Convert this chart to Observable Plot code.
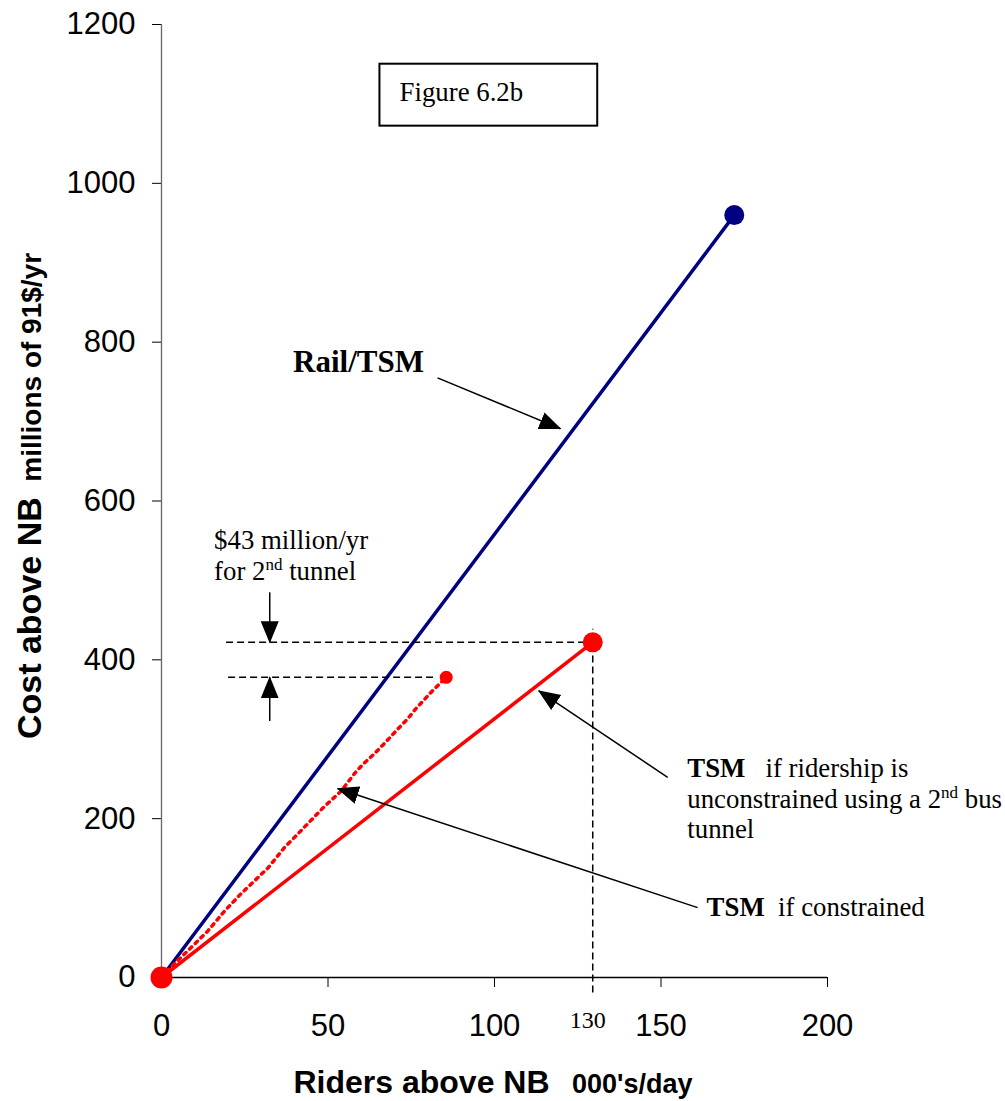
<!DOCTYPE html>
<html><head><meta charset="utf-8">
<script src="https://cdn.jsdelivr.net/npm/d3@7"></script>
<script src="https://cdn.jsdelivr.net/npm/@observablehq/plot@0.6"></script>
<style>body{margin:0;background:#fff}</style>
</head><body>
<script>
// ---- data ----
const xTicks = [0, 50, 100, 150, 200];
const yTicks = [0, 200, 400, 600, 800, 1000, 1200];
const railTSM = [{x: 0, y: 0}, {x: 172, y: 960}];
const tsmUnconstrained = [{x: 0, y: 0}, {x: 129.5, y: 422}];
const tsmConstrainedX = [0, 4, 8, 14, 19, 24, 28, 32, 37, 41, 48.6, 54, 58, 60.6, 64, 67, 71, 74, 76.5, 81.6, 85.5];
const tsmConstrainedY = [0, 18, 34, 59, 84, 106, 122, 138, 164, 181, 214, 235, 257, 269, 282, 295, 313, 326, 339, 362, 378];
const tsmConstrained = tsmConstrainedX.map((x, i) => ({x, y: tsmConstrainedY[i]}));

// annotation geometry (data units)
const arrows = [
  {x1: 82.9, y1: 755, x2: 119.8, y2: 691},
  {x1: 152, y1: 252, x2: 113.3, y2: 361},
  {x1: 161, y1: 88, x2: 52.9, y2: 238},
  {x1: 32.5, y1: 485, x2: 32.5, y2: 422},
  {x1: 32.5, y1: 323, x2: 32.5, y2: 378}
];
const dashed = [
  {x1: 19.4, y1: 422, x2: 129.5, y2: 422},
  {x1: 20, y1: 378, x2: 82, y2: 378},
  {x1: 129.5, y1: -19, x2: 129.5, y2: 439}
];
const figureBox = [{x1: 65.6, x2: 131, y1: 1072, y2: 1150}];
const boldLabels = [{x: 39.5, y: 763, text: "Rail/TSM"}];
const serifLabels = [
  {x: 71.5, y: 1104, text: "Figure 6.2b"},
  {x: 15.8, y: 539, text: "$43 million/yr"},
  {x: 15.8, y: 500, text: "for 2nd tunnel"},
  {x: 157.9, y: 252, text: "TSM   if ridership is"},
  {x: 157.9, y: 214, text: "unconstrained using a 2nd bus"},
  {x: 157.9, y: 176, text: "tunnel"},
  {x: 163.7, y: 78, text: "TSM  if constrained"}
];
const tickNote = [{x: 128, y: -63, text: "130"}];
const xTitle = ["Riders above NB", "   000's/day"];
const yTitle = ["Cost above NB", "  millions of 91$/yr"];

const rich = {
  "for 2nd tunnel": [["for 2"], ["nd", "sup"], [" tunnel"]],
  "unconstrained using a 2nd bus": [["unconstrained using a 2"], ["nd", "sup"], [" bus"]],
  "TSM   if ridership is": [["TSM", "b"], ["   if ridership is"]],
  "TSM  if constrained": [["TSM", "b"], ["  if constrained"]]
};

const SANS = "Liberation Sans, Arial, sans-serif";
const SERIF = "Liberation Serif, Times New Roman, serif";

const svg = Plot.plot({
  width: 1005,
  height: 1101,
  marginLeft: 161,
  marginRight: 178,
  marginTop: 24,
  marginBottom: 124,
  style: {fontFamily: SANS, fontSize: "31px", color: "#000", background: "#fff", overflow: "visible"},
  x: {domain: [0, 200], ticks: xTicks, tickSize: 10, tickPadding: 26, tickFormat: "d", label: null},
  y: {domain: [0, 1200], ticks: yTicks, tickSize: 9, tickPadding: 17, tickFormat: "d", label: null},
  marks: [
    Plot.ruleX([0], {y1: 0, y2: 1200, stroke: "#666", strokeWidth: 1.3}),
    Plot.ruleY([0], {x1: 0, x2: 200, stroke: "#000", strokeWidth: 1.3}),
    Plot.rect(figureBox, {x1: "x1", x2: "x2", y1: "y1", y2: "y2", fill: "#fff", stroke: "#000", strokeWidth: 2}),
    Plot.line(railTSM, {x: "x", y: "y", stroke: "#000080", strokeWidth: 3.5}),
    Plot.line(tsmUnconstrained, {x: "x", y: "y", stroke: "#ff0000", strokeWidth: 3.5}),
    Plot.line(tsmConstrained, {x: "x", y: "y", stroke: "#ff0000", strokeWidth: 3.5, strokeDasharray: "3 5"}),
    Plot.link(dashed, {x1: "x1", y1: "y1", x2: "x2", y2: "y2", stroke: "#000", strokeWidth: 1.5, strokeDasharray: "7 4"}),
    Plot.link(arrows, {x1: "x1", y1: "y1", x2: "x2", y2: "y2", stroke: "#010101", strokeWidth: 1.5}),
    Plot.dot([railTSM[1]], {x: "x", y: "y", r: 10, fill: "#000080"}),
    Plot.dot([tsmUnconstrained[1]], {x: "x", y: "y", r: 10, fill: "#ff0000"}),
    Plot.dot([tsmConstrained[tsmConstrained.length - 1]], {x: "x", y: "y", r: 6.5, fill: "#ff0000"}),
    Plot.dot([tsmUnconstrained[0]], {x: "x", y: "y", r: 11, fill: "#ff0000"}),
    Plot.text(boldLabels, {x: "x", y: "y", text: "text", textAnchor: "start", lineAnchor: "bottom", fontFamily: SERIF, fontWeight: "bold", fontSize: 31, fill: "#000"}),
    Plot.text(serifLabels, {x: "x", y: "y", text: "text", textAnchor: "start", lineAnchor: "bottom", fontFamily: SERIF, fontSize: 26.8, fill: "#000"}),
    Plot.text(tickNote, {x: "x", y: "y", text: "text", textAnchor: "middle", lineAnchor: "bottom", fontFamily: SERIF, fontSize: 24, fill: "#000"})
  ]
});
document.body.appendChild(svg);

const s = d3.select(svg);
const defs = s.append("defs");
defs.append("marker")
  .attr("id", "ah").attr("viewBox", "0 -10 22 20").attr("refX", 21).attr("refY", 0)
  .attr("markerWidth", 22).attr("markerHeight", 20).attr("markerUnits", "userSpaceOnUse").attr("orient", "auto")
  .append("path").attr("d", "M0,-9L22,0L0,9Z").attr("fill", "#000");
s.selectAll('[stroke="#010101"]').each(function () {
  const els = this.tagName.toLowerCase() === "path" ? [this] : Array.from(this.querySelectorAll("path"));
  els.forEach(p => p.setAttribute("marker-end", "url(#ah)"));
});

s.selectAll("text").each(function () {
  this.style.whiteSpace = "pre";
  const segs = rich[this.textContent];
  if (!segs) return;
  this.textContent = "";
  for (const [t, k] of segs) {
    const ts = d3.select(this).append("tspan").text(t);
    if (k === "b") ts.attr("font-weight", "bold");
    if (k === "sup") ts.attr("font-size", 17).style("baseline-shift", "10px");
  }
});

const xt = s.append("text").attr("x", 493).attr("y", 1093).attr("text-anchor", "middle")
  .attr("font-family", SANS).attr("font-weight", "bold").style("white-space", "pre").attr("fill", "#000");
xt.append("tspan").attr("font-size", 32).text(xTitle[0]);
xt.append("tspan").attr("font-size", 27).text(xTitle[1]);

const yt = s.append("text").attr("transform", "translate(41,496) rotate(-90)").attr("text-anchor", "middle")
  .attr("font-family", SANS).attr("font-weight", "bold").style("white-space", "pre").attr("fill", "#000");
yt.append("tspan").attr("font-size", 34).text(yTitle[0]);
yt.append("tspan").attr("font-size", 28).text(yTitle[1]);
</script>
</body></html>
